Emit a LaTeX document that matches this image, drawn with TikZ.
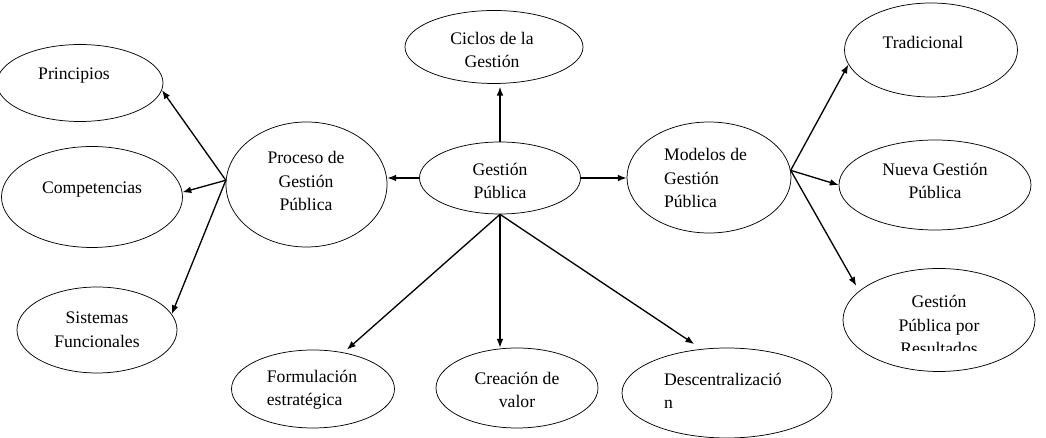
\documentclass[tikz,border=0pt]{standalone}
\usepackage{fontspec}
\setmainfont{Liberation Serif}
\usetikzlibrary{shapes.geometric,arrows.meta}
\newcommand{\pxu}{0.68pt}

\begin{document}
\begin{tikzpicture}[
  x=\pxu,y=-\pxu,
  bub/.style={draw,ellipse,line width=0.5pt,inner sep=0pt},
  lbl/.style={font=\fontsize{12}{16}\selectfont,align=center,inner sep=0pt},
  lbll/.style={lbl,align=left},
  arr/.style={->,line width=0.9pt},
  >={Latex[length=6pt,width=4.6pt]}]
  \useasboundingbox (0,0) rectangle (1046,438);
  % centre
  \node (gp) [bub,minimum width=161*\pxu,minimum height=72*\pxu] at (500,178) {};
  \node (gp-l) [lbl] at (500,181) {Gestión\\Pública};
  \node (cic) [bub,minimum width=178*\pxu,minimum height=73*\pxu] at (494,47) {};
  \node (cic-l) [lbl] at (492,50) {Ciclos de la\\Gestión};
  % left side
  \node (proc) [bub,minimum width=161*\pxu,minimum height=125*\pxu] at (306.5,184.5) {};
  \node (proc-l) [lbl] at (306,181) {Proceso de\\Gestión\\Pública};
  \node (prin) [bub,minimum width=166*\pxu,minimum height=77*\pxu] at (80,83) {};
  \node (prin-l) [lbl] at (74,76) {Principios};
  \node (comp) [bub,minimum width=181*\pxu,minimum height=101*\pxu] at (92,197) {};
  \node (comp-l) [lbl] at (92,190) {Competencias};
  \node (sist) [bub,minimum width=160*\pxu,minimum height=86*\pxu] at (97,330) {};
  \node (sist-l) [lbl] at (97,330) {Sistemas\\Funcionales};
  % right side
  \node (mod) [bub,minimum width=164*\pxu,minimum height=111*\pxu] at (709,177.5) {};
  \node (mod-l) [lbll] at (705.5,178) {Modelos de\\Gestión\\Pública};
  \node (trad) [bub,minimum width=173*\pxu,minimum height=94*\pxu] at (931,50) {};
  \node (trad-l) [lbl] at (923,42) {Tradicional};
  \node (nueva) [bub,minimum width=192*\pxu,minimum height=90*\pxu] at (935,185) {};
  \node (nueva-l) [lbl] at (935,181) {Nueva Gestión\\Pública};
  \node (res) [bub,minimum width=192*\pxu,minimum height=103*\pxu] at (939,320) {};
  \begin{scope}
    \clip (840,260) rectangle (1040,351);
    \node (res-l) [lbl] at (939,325) {Gestión\\Pública por\\Resultados};
  \end{scope}
  % bottom row
  \node (form) [bub,minimum width=163*\pxu,minimum height=78*\pxu] at (313,389) {};
  \node (form-l) [lbll] at (312,390) {Formulación\\estratégica};
  \node (crea) [bub,minimum width=162*\pxu,minimum height=80*\pxu] at (517,388) {};
  \node (crea-l) [lbl] at (517,390) {Creación de\\valor};
  \node (desc) [bub,minimum width=210*\pxu,minimum height=90*\pxu] at (727,393) {};
  \node (desc-l) [lbll] at (723,391) {Descentralizació\\n};
  % arrows
  \draw[arr,shorten >=2pt] (gp.north) -- (gp.north |- cic.south);
  \draw[arr] (gp.west) -- (gp.west -| proc.east);
  \draw[arr] (gp.east) -- (gp.east -| mod.west);
  \draw[arr,shorten >=3pt] (gp.south) -- (form.50);
  \draw[arr] (gp.south) -- (gp.south |- crea.north);
  \draw[arr,shorten >=6pt] (gp.south) -- (desc.120);
  \draw[arr] (proc.177) -- (prin.-5);
  \draw[arr] (proc.177) -- (comp.3);
  \draw[arr] (proc.177) -- (sist.12);
  \draw[arr] (mod.5) -- (trad.190);
  \draw[arr] (mod.5) -- (nueva.west);
  \draw[arr,shorten >=4pt] (mod.5) -- (res.160);
\end{tikzpicture}
\end{document}
